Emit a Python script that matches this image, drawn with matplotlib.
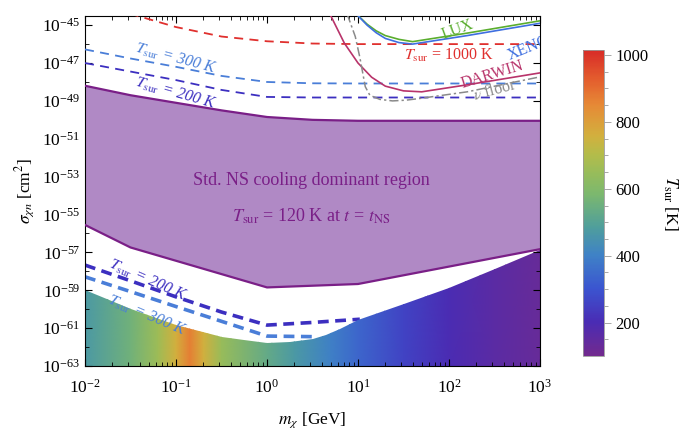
import numpy as np
import matplotlib
matplotlib.use('Agg')
import matplotlib.pyplot as plt
from matplotlib.colors import LinearSegmentedColormap, Normalize
from matplotlib.cm import ScalarMappable
from matplotlib.ticker import FixedLocator, NullFormatter, LogLocator

plt.rcParams['font.family'] = ['Liberation Serif', 'DejaVu Serif']
plt.rcParams['mathtext.fontset'] = 'stix'

# all curves given as log10(m / GeV) and log10(sigma / cm^2)

# standard NS cooling dominant region
std_top_lm = [-2, -1.5, -1, -0.5, 0, 0.5, 1, 2, 3]
std_top_ls = [-48.2, -48.7, -49.1, -49.5, -49.85, -50.0, -50.05, -50.05, -50.05]
std_bot_lm = [-2, -1.5, 0, 1, 3]
std_bot_ls = [-55.55, -56.74, -58.85, -58.67, -56.83]

# heated region (colour = T_sur)
heat_lm = [-2, -1.5, -1, -0.5, -0.25, 0, 0.25, 0.5, 0.65, 0.8, 1, 1.5, 2, 2.5, 3]
heat_ls = [-59.0, -60.0, -60.85, -61.45, -61.65, -61.78, -61.72, -61.58, -61.35, -61.07,
           -60.58, -59.7, -58.9, -57.9, -56.85]
temp_lm = [-2, -1.5, -1.2, -1.0, -0.85, -0.7, -0.5, 0, 0.3, 0.7, 1.0, 1.5, 2.0, 2.5, 3.0]
temp_K = [470, 560, 660, 760, 870, 760, 650, 530, 470, 400, 340, 260, 200, 160, 130]

# upper dashed curves
up_lm = [-2, -1.5, -1, -0.5, 0, 0.5, 1, 3]
t1000_up = [-43.6, -44.4, -45.1, -45.6, -45.85, -45.97, -46.0, -46.0]
t300_up = [-46.28, -46.76, -47.2, -47.68, -48.0, -48.07, -48.08, -48.08]
t200_up = [-47.0, -47.45, -47.9, -48.42, -48.79, -48.82, -48.82, -48.82]

# lower dashed curves
t200_lo_lm = [-2, -1.5, -1, -0.5, 0, 0.5, 1.02]
t200_lo_ls = [-57.67, -58.5, -59.35, -60.15, -60.84, -60.7, -60.53]
t300_lo_lm = [-2, -1.5, -1, -0.5, 0, 0.5]
t300_lo_ls = [-58.29, -59.07, -59.86, -60.64, -61.42, -61.45]

# direct detection limits
lux_lm = [0.98, 1.1, 1.2, 1.3, 1.45, 1.6, 2.2, 3.0]
lux_ls = [-44.4, -44.95, -45.3, -45.55, -45.75, -45.87, -45.42, -44.77]
xen_lm = [0.98, 1.1, 1.2, 1.3, 1.45, 1.6, 2.2, 3.0]
xen_ls = [-44.4, -45.0, -45.4, -45.7, -45.92, -46.0, -45.55, -44.9]
dar_lm = [0.69, 0.85, 1.0, 1.15, 1.3, 1.5, 1.7, 2.2, 3.0]
dar_ls = [-44.4, -45.95, -47.0, -47.75, -48.22, -48.47, -48.52, -48.15, -47.52]
nu_lm = [0.88, 0.97, 1.02, 1.08, 1.13, 1.24, 1.38, 1.53, 1.68, 2.2, 3.0]
nu_ls = [-44.4, -45.6, -46.7, -48.25, -48.7, -48.92, -49.0, -48.96, -48.87, -48.52, -47.73]

rainbow = LinearSegmentedColormap.from_list('mrainbow', [
    (0.0, '#722a8e'), (0.11, '#4a2cb4'), (0.22, '#3b55d0'), (0.33, '#3f82c6'),
    (0.42, '#4f9e9c'), (0.53, '#7cb86e'), (0.6, '#98bc5a'), (0.66, '#b4bc4a'),
    (0.72, '#d2b03e'), (0.82, '#e68a36'), (0.9, '#e4602e'), (1.0, '#d82c28')])
norm = Normalize(100, 1015)

def p(a):
    return 10.0 ** np.asarray(a)

fig = plt.figure(figsize=(6.79, 4.30), dpi=100)
ax = fig.add_axes([85 / 679, 1 - 366 / 430, 455 / 679, 350.3 / 430])
ax.set_xscale('log')
ax.set_yscale('log')

# heated region
clip = ax.fill_between(p(heat_lm), 1e-63, p(heat_ls), facecolor='none', edgecolor='none')
tx = p(temp_lm)
ty = np.array([1e-63, 1e-56])
tc = np.vstack([temp_K, temp_K])
mesh = ax.pcolormesh(tx, ty, tc, cmap=rainbow, norm=norm, shading='gouraud', zorder=1)
mesh.set_clip_path(clip.get_paths()[0], ax.transData)

# std cooling region
poly_x = np.concatenate([p(std_top_lm), p(std_bot_lm)[::-1]])
poly_y = np.concatenate([p(std_top_ls), p(std_bot_ls)[::-1]])
ax.fill(poly_x, poly_y, facecolor='#b089c5', edgecolor='none', zorder=2)
ax.plot(p(std_top_lm), p(std_top_ls), color='#7a1f87', lw=1.6, zorder=3)
ax.plot(p(std_bot_lm), p(std_bot_ls), color='#7a1f87', lw=1.6, zorder=3)

red = '#e0302e'
lblue = '#4a7ed8'
indigo = '#3c2fc0'
ax.plot(p(up_lm), p(t1000_up), color=red, lw=1.3, dashes=(5, 3.5), zorder=4)
ax.plot(p(up_lm), p(t300_up), color=lblue, lw=1.3, dashes=(5, 3.5), zorder=4)
ax.plot(p(up_lm), p(t200_up), color=indigo, lw=1.3, dashes=(5, 3.5), zorder=4)
ax.plot(p(t200_lo_lm), p(t200_lo_ls), color=indigo, lw=2.6, dashes=(3, 1.8), zorder=0.5)
ax.plot(p(t300_lo_lm), p(t300_lo_ls), color=lblue, lw=2.6, dashes=(3, 1.8), zorder=0.5)

ax.plot(p(lux_lm), p(lux_ls), color='#5aad2e', lw=1.2, zorder=4)
ax.plot(p(xen_lm), p(xen_ls), color='#3f6fe0', lw=1.2, zorder=4)
ax.plot(p(dar_lm), p(dar_ls), color='#b8336a', lw=1.2, zorder=4)
ax.plot(p(nu_lm), p(nu_ls), color='#8a8a8a', lw=1.1, dashes=(6, 2, 1.5, 2), zorder=4)

tfs = 11.5
ax.text(p(-1.01), p(-46.74), r'$T_{\rm sur}$ = 300 K', color=lblue, fontsize=tfs,
        rotation=-15, ha='center', va='center', style='italic', zorder=5)
ax.text(p(-1.01), p(-48.59), r'$T_{\rm sur}$ = 200 K', color=indigo, fontsize=tfs,
        rotation=-16, ha='center', va='center', style='italic', zorder=5)
ax.text(p(2.0), p(-46.6), r'$T_{\rm sur}$ = 1000 K', color=red, fontsize=tfs,
        ha='center', va='center', zorder=5)
ax.text(p(2.1), p(-45.26), 'LUX', color='#5aad2e', fontsize=tfs, rotation=20,
        ha='center', va='center', zorder=5)
ax.text(p(2.62), p(-46.1), 'XENON', color='#3f6fe0', fontsize=tfs, rotation=22,
        ha='left', va='center', clip_on=True, zorder=5)
ax.text(p(2.48), p(-47.64), 'DARWIN', color='#b8336a', fontsize=tfs, rotation=17,
        ha='center', va='center', zorder=5)
ax.text(p(2.5), p(-48.43), r'$\nu$ floor', color='#8a8a8a', fontsize=tfs, rotation=15,
        ha='center', va='center', zorder=5)
ax.text(p(-1.31), p(-58.46), r'$T_{\rm sur}$ = 200 K', color=indigo, fontsize=tfs,
        rotation=-24, ha='center', va='center', style='italic', zorder=5)
ax.text(p(-1.32), p(-60.31), r'$T_{\rm sur}$ = 300 K', color=lblue, fontsize=tfs,
        rotation=-23, ha='center', va='center', style='italic', zorder=5)

purple_txt = '#7a1f87'
ax.text(p(0.49), p(-53.22), 'Std. NS cooling dominant region', color=purple_txt,
        fontsize=13, ha='center', va='center', zorder=5)
ax.text(p(0.49), p(-55.12), r'$T_{\rm sur}$ = 120 K at $t$ = $t_{\rm NS}$', color=purple_txt,
        fontsize=13, ha='center', va='center', zorder=5)

ax.set_xlim(1e-2, 1e3)
ax.set_ylim(1e-63, 10 ** -44.5)
ax.xaxis.set_major_locator(FixedLocator(p(np.arange(-2, 4))))
ax.xaxis.set_minor_locator(LogLocator(base=10, subs=np.arange(2, 10), numticks=20))
ax.xaxis.set_minor_formatter(NullFormatter())
ax.yaxis.set_major_locator(FixedLocator(p(np.arange(-63, -44, 2))))
ax.yaxis.set_minor_locator(FixedLocator(p(np.arange(-62, -44, 2))))
ax.yaxis.set_minor_formatter(NullFormatter())
ax.tick_params(which='both', direction='in', top=True, right=True, labelsize=12.5)
ax.tick_params(which='major', length=5, width=0.8)
ax.tick_params(which='minor', length=3, width=0.6)
ax.tick_params(axis='x', which='major', pad=9)
ax.set_xlabel(r'$m_\chi$ [GeV]', fontsize=12.5, labelpad=10)
ax.set_ylabel(r'$\sigma_{\chi n}$ [cm$^2$]', fontsize=12.5, labelpad=4)

cax = fig.add_axes([583 / 679, 1 - 356 / 430, 20.6 / 679, 306 / 430])
cb = fig.colorbar(ScalarMappable(norm=norm, cmap=rainbow), cax=cax)
cb.set_ticks([200, 400, 600, 800, 1000])
cb.ax.yaxis.set_minor_locator(FixedLocator(np.arange(150, 1001, 50)))
cb.ax.tick_params(which='both', colors='#999999', labelcolor='black', labelsize=12, width=0.6)
cb.ax.tick_params(which='major', length=5)
cb.ax.tick_params(which='minor', length=3)
cb.outline.set_edgecolor('#999999')
cb.outline.set_linewidth(0.6)
cb.set_label(r'$T_{\rm sur}$ [K]', rotation=270, fontsize=12.5, labelpad=22)

fig.savefig('out.png', dpi=100)
